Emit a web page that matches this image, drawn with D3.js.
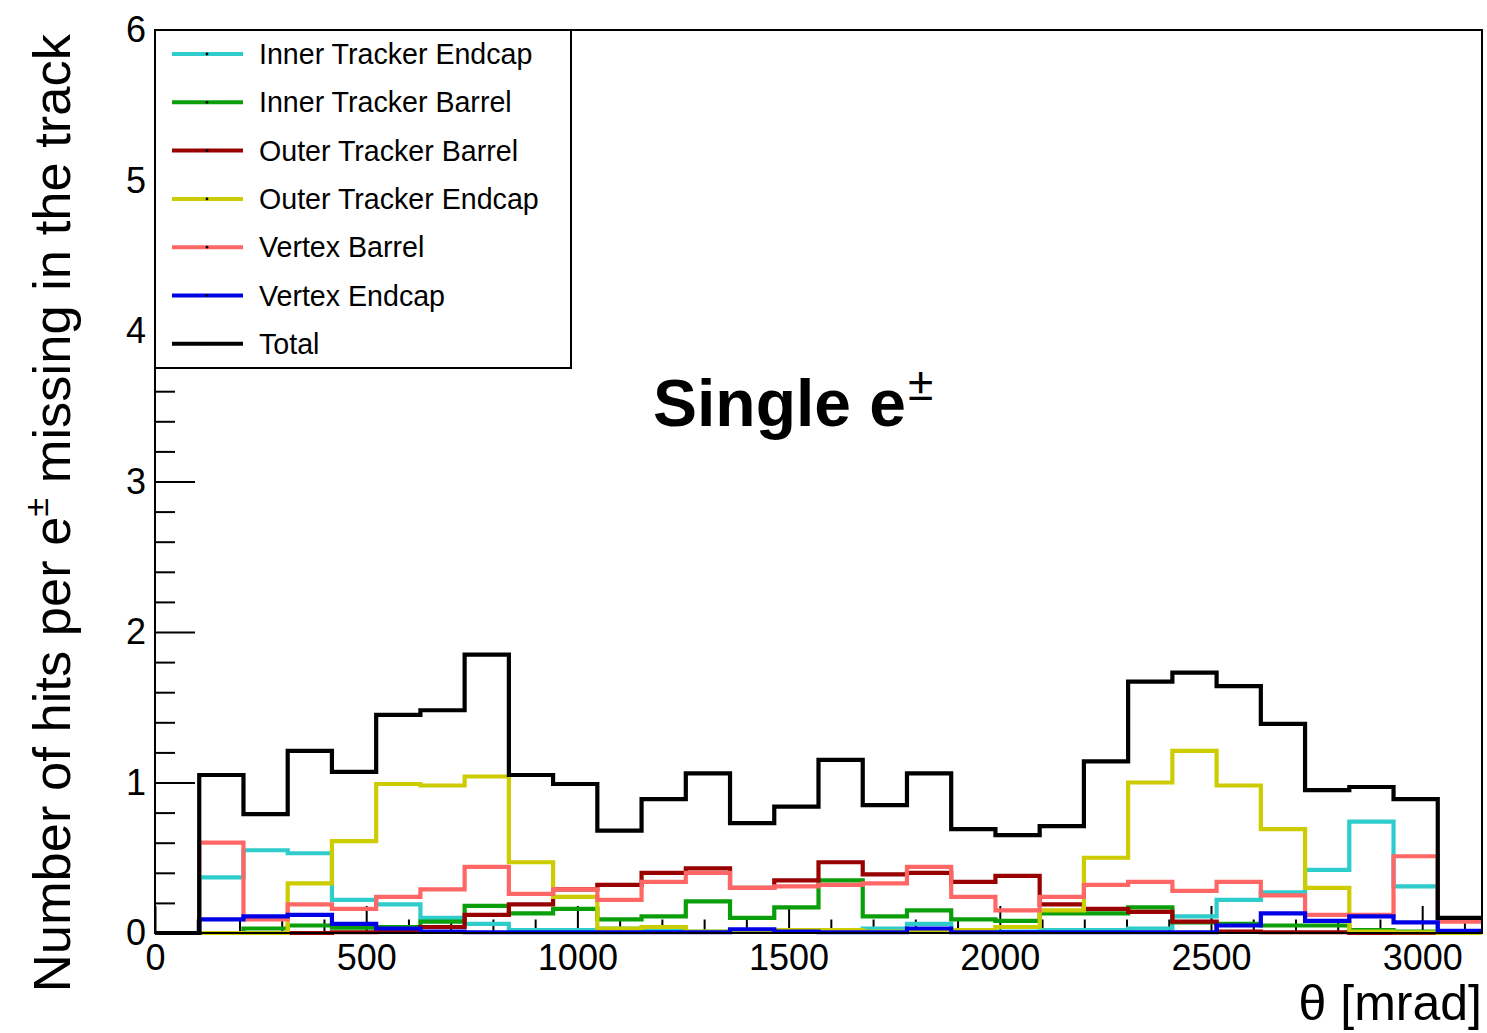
<!DOCTYPE html>
<html>
<head>
<meta charset="utf-8">
<script src="https://cdn.jsdelivr.net/npm/d3@7"></script>
<style>
  html, body { margin: 0; padding: 0; background: #fff; }
  svg { display: block; font-family: "Liberation Sans", Arial, Helvetica, sans-serif; }
</style>
</head>
<body>
<svg id="chart" width="1487" height="1033"></svg>
<script>
// Polar-angle bins: 30 equal bins over [0, pi] rad, expressed in mrad
const nBins = 30;
const thetaMax = Math.PI * 1000;

// Mean number of missing hits per e± in each theta bin, by subdetector
const innerTrackerEndcap = [0, 0.37, 0.55, 0.53, 0.22, 0.19, 0.10, 0.06, 0.02, 0.02, 0.03, 0.02, 0.01, 0.01, 0.01,
  0.01, 0.03, 0.06, 0.01, 0.01, 0.02, 0.02, 0.03, 0.11, 0.22, 0.27, 0.42, 0.74, 0.31, 0.00];
const innerTrackerBarrel = [0, 0.00, 0.03, 0.05, 0.035, 0.04, 0.075, 0.18, 0.13, 0.16, 0.09, 0.11, 0.21, 0.10, 0.17,
  0.35, 0.11, 0.15, 0.09, 0.08, 0.13, 0.13, 0.17, 0.07, 0.06, 0.05, 0.05, 0.02, 0.01, 0.00];
const outerTrackerBarrel = [0, 0, 0, 0.00, 0.005, 0.01, 0.04, 0.12, 0.19, 0.29, 0.32, 0.40, 0.43, 0.30, 0.35,
  0.47, 0.39, 0.40, 0.34, 0.38, 0.19, 0.16, 0.14, 0.075, 0.01, 0.005, 0.005, 0, 0, 0];
const outerTrackerEndcap = [0, 0, 0, 0.33, 0.61, 0.99, 0.98, 1.04, 0.47, 0.24, 0.03, 0.04, 0.01, 0.01, 0.02,
  0.02, 0.01, 0.01, 0.02, 0.04, 0.15, 0.50, 1.00, 1.21, 0.98, 0.69, 0.30, 0.01, 0.005, 0];
const vertexBarrel = [0, 0.60, 0.09, 0.19, 0.16, 0.24, 0.29, 0.44, 0.26, 0.29, 0.22, 0.34, 0.40, 0.30, 0.31,
  0.32, 0.33, 0.44, 0.24, 0.15, 0.24, 0.32, 0.34, 0.28, 0.34, 0.25, 0.12, 0.12, 0.51, 0.075];
const vertexEndcap = [0, 0.09, 0.11, 0.12, 0.06, 0.03, 0.01, 0.005, 0.005, 0.005, 0.005, 0.005, 0.005, 0.025, 0.01,
  0.005, 0.005, 0.03, 0.005, 0.005, 0.005, 0.005, 0.005, 0.005, 0.05, 0.13, 0.08, 0.11, 0.07, 0.015];
const total = [0, 1.05, 0.79, 1.21, 1.07, 1.45, 1.48, 1.85, 1.05, 0.99, 0.68, 0.89, 1.06, 0.73, 0.84,
  1.15, 0.85, 1.06, 0.69, 0.65, 0.71, 1.14, 1.67, 1.73, 1.64, 1.39, 0.95, 0.97, 0.89, 0.10];

const seriesNames = ["Inner Tracker Endcap", "Inner Tracker Barrel", "Outer Tracker Barrel",
  "Outer Tracker Endcap", "Vertex Barrel", "Vertex Endcap", "Total"];
const seriesColors = ["#2fcccc", "#0a9f0a", "#990000", "#cccc00", "#ff6666", "#0000e6", "#000000"];
const seriesValues = [innerTrackerEndcap, innerTrackerBarrel, outerTrackerBarrel,
  outerTrackerEndcap, vertexBarrel, vertexEndcap, total];

const xMajorTicks = [0, 500, 1000, 1500, 2000, 2500, 3000];
const yMajorTicks = [0, 1, 2, 3, 4, 5, 6];

// Frame geometry
const frame = { left: 155, right: 1482, top: 30, bottom: 933 };

const svg = d3.select("#chart");

const x = d3.scaleLinear().domain([0, thetaMax]).range([frame.left, frame.right]);
const y = d3.scaleLinear().domain([0, 6]).range([frame.bottom, frame.top]);

svg.append("defs").append("clipPath").attr("id", "plot-clip")
  .append("rect")
  .attr("x", frame.left).attr("y", frame.top - 2)
  .attr("width", frame.right - frame.left).attr("height", frame.bottom - frame.top + 4);

// Axis tick marks (pointing into the frame)
const xMinor = d3.range(0, 3200, 100).filter(v => v % 500 !== 0);
svg.append("g")
  .attr("transform", `translate(0,${frame.bottom})`)
  .call(d3.axisBottom(x).tickValues(xMinor).tickSize(-13.5).tickFormat(""))
  .call(g => g.select(".domain").remove())
  .call(g => g.selectAll("line").attr("stroke", "#000").attr("stroke-width", 2));

svg.append("g")
  .attr("class", "x-axis")
  .attr("transform", `translate(0,${frame.bottom})`)
  .call(d3.axisBottom(x).tickValues(xMajorTicks).tickSize(-27).tickPadding(11).tickFormat(d3.format("d")))
  .call(g => g.select(".domain").remove())
  .call(g => g.selectAll("line").attr("stroke", "#000").attr("stroke-width", 2))
  .call(g => g.selectAll("text").attr("font-size", 36).attr("fill", "#000")
    .attr("font-family", "Liberation Sans, Arial, sans-serif"));

const yMinor = d3.range(0, 6.001, 0.2).filter(v => Math.abs(v - Math.round(v)) > 1e-6);
svg.append("g")
  .attr("transform", `translate(${frame.left},0)`)
  .call(d3.axisLeft(y).tickValues(yMinor).tickSize(-20).tickFormat(""))
  .call(g => g.select(".domain").remove())
  .call(g => g.selectAll("line").attr("stroke", "#000").attr("stroke-width", 2));

svg.append("g")
  .attr("class", "y-axis")
  .attr("transform", `translate(${frame.left},0)`)
  .call(d3.axisLeft(y).tickValues(yMajorTicks).tickSize(-40).tickPadding(9).tickFormat(d3.format("d")))
  .call(g => g.select(".domain").remove())
  .call(g => g.selectAll("line").attr("stroke", "#000").attr("stroke-width", 2))
  .call(g => g.selectAll("text").attr("font-size", 36).attr("fill", "#000")
    .attr("font-family", "Liberation Sans, Arial, sans-serif"));

// Histogram outlines
const binWidth = thetaMax / nBins;
const step = d3.line()
  .x(d => x(d[0]))
  .y(d => y(d[1]))
  .curve(d3.curveStepAfter);

const plot = svg.append("g").attr("clip-path", "url(#plot-clip)");
seriesValues.forEach((vals, i) => {
  const pts = vals.map((v, k) => [k * binWidth, v]);
  pts.push([nBins * binWidth, vals[vals.length - 1]]);
  plot.append("path")
    .attr("d", step(pts))
    .attr("fill", "none")
    .attr("stroke", seriesColors[i])
    .attr("stroke-width", 4.2)
    .attr("stroke-linejoin", "miter");
});

// Frame
svg.append("rect")
  .attr("x", frame.left).attr("y", frame.top)
  .attr("width", frame.right - frame.left).attr("height", frame.bottom - frame.top)
  .attr("fill", "none").attr("stroke", "#000").attr("stroke-width", 2);

// Legend
const legend = svg.append("g");
legend.append("rect")
  .attr("x", 155).attr("y", 30).attr("width", 416).attr("height", 338)
  .attr("fill", "#fff").attr("stroke", "#000").attr("stroke-width", 2);
seriesNames.forEach((name, i) => {
  const cy = 54 + i * 48.3;
  legend.append("line")
    .attr("x1", 172).attr("x2", 243).attr("y1", cy).attr("y2", cy)
    .attr("stroke", seriesColors[i]).attr("stroke-width", 4);
  legend.append("circle")
    .attr("cx", 207).attr("cy", cy).attr("r", 1.4).attr("fill", "#000");
  legend.append("text")
    .attr("x", 259).attr("y", cy + 10)
    .attr("font-size", 28.6).attr("fill", "#000")
    .text(name);
});

// Plot label
const label = svg.append("text")
  .attr("x", 653).attr("y", 426)
  .attr("font-size", 66).attr("font-weight", "bold").attr("fill", "#000");
label.append("tspan").text("Single e");
label.append("tspan").attr("dx", 2).attr("dy", -26).attr("font-size", 46).attr("font-weight", "normal").text("±");

// Axis titles
svg.append("text")
  .attr("x", frame.right).attr("y", 1020)
  .attr("text-anchor", "end").attr("font-size", 50).attr("fill", "#000")
  .text("θ [mrad]");

const yTitle = svg.append("text")
  .attr("transform", `translate(70,${frame.top + 4}) rotate(-90)`)
  .attr("text-anchor", "end").attr("font-size", 52.5).attr("fill", "#000");
yTitle.append("tspan").text("Number of hits per e");
yTitle.append("tspan").attr("dy", -22).attr("font-size", 34).text("±");
yTitle.append("tspan").attr("dy", 22).text(" missing in the track");
</script>
</body>
</html>
